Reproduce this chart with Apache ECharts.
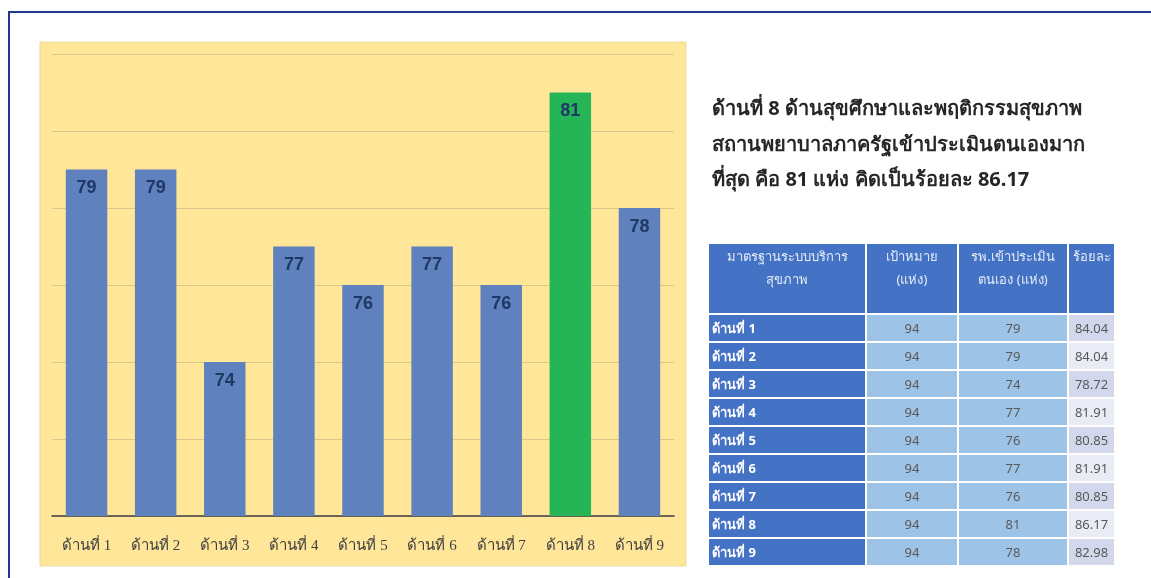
<!DOCTYPE html>
<html><head><meta charset="utf-8">
<script src="https://cdn.jsdelivr.net/npm/echarts@6.0.0/dist/echarts.min.js"></script>
<style>
html,body{margin:0;padding:0;background:#fff;width:1151px;height:578px;overflow:hidden;}
#frame{position:absolute;left:8px;top:11px;width:1143px;height:567px;border-top:2px solid #1F3A8A;border-left:2px solid #1F3A8A;box-sizing:border-box;}
#chart{position:absolute;left:0;top:0;width:1151px;height:578px;}
#tbl{position:absolute;left:707px;top:242px;border-collapse:collapse;table-layout:fixed;font-family:Tahoma,'Noto Sans','DejaVu Sans',sans-serif;font-size:13px;}
#tbl td,#tbl th{border:2px solid #fff;padding:0;}
#tbl th{background:#4472C4;color:#E4EBF7;font-weight:normal;vertical-align:top;height:68px;line-height:23px;padding-top:1px;text-align:center;}
#tbl td{height:26px;line-height:26px;color:#595959;text-align:center;}
#tbl td.c1{background:#4472C4;color:#fff;text-align:left;padding-left:3px;font-weight:bold;}
#tbl td.c2,#tbl td.c3{background:#9DC3E6;}
#tbl td.c4a{background:#D3D7EB;}
#tbl td.c4b{background:#E9EBF5;}
</style></head>
<body>
<div id="frame"></div>
<div id="chart"></div>
<table id="tbl"></table>
<script>
// ---- data ----
const categories = ['ด้านที่ 1','ด้านที่ 2','ด้านที่ 3','ด้านที่ 4','ด้านที่ 5','ด้านที่ 6','ด้านที่ 7','ด้านที่ 8','ด้านที่ 9'];
const assessed = [79, 79, 74, 77, 76, 77, 76, 81, 78];
const targets = [94, 94, 94, 94, 94, 94, 94, 94, 94];
const percents = ['84.04','84.04','78.72','81.91','80.85','81.91','80.85','86.17','82.98'];
const highlightIndex = 7;
const yMin = 70, yMax = 82, yInterval = 2;
const headers = ['มาตรฐานระบบบริการ<br>สุขภาพ','เป้าหมาย<br>(แห่ง)','รพ.เข้าประเมิน<br>ตนเอง (แห่ง)','ร้อยละ'];
const titleLines = ['ด้านที่ 8 ด้านสุขศึกษาและพฤติกรรมสุขภาพ','สถานพยาบาลภาครัฐเข้าประเมินตนเองมาก','ที่สุด คือ 81 แห่ง คิดเป็นร้อยละ 86.17'];

// ---- table ----
const colW = [158, 92, 110, 47];
let html = '<colgroup>' + colW.map(w => '<col style="width:' + w + 'px">').join('') + '</colgroup>';
html += '<tr>' + headers.map(h => '<th>' + h + '</th>').join('') + '</tr>';
categories.forEach((c, i) => {
  html += '<tr><td class="c1">' + c + '</td><td class="c2">' + targets[i] + '</td><td class="c3">' + assessed[i] +
    '</td><td class="' + (i % 2 === 0 ? 'c4a' : 'c4b') + '">' + percents[i] + '</td></tr>';
});
document.getElementById('tbl').innerHTML = html;

// ---- chart ----
const chart = echarts.init(document.getElementById('chart'), null, {renderer: 'canvas'});
const thaiFont = "Tahoma, 'Noto Sans', 'DejaVu Sans', sans-serif";
chart.setOption({
  animation: false,
  backgroundColor: 'transparent',
  title: {
    text: titleLines.join('\n'),
    left: 712, top: 92, padding: 0,
    textStyle: {fontSize: 20, fontWeight: 'bold', color: '#262626', lineHeight: 35.5, fontFamily: thaiFont}
  },
  graphic: [{
    type: 'rect', z: -10, silent: true,
    shape: {x: 40, y: 42, width: 646, height: 524},
    style: {fill: '#FFE699', stroke: '#E8DAA6', lineWidth: 1}
  }],
  grid: {left: 52, right: 477, top: 54, bottom: 62},
  xAxis: {
    type: 'category', data: categories,
    axisLine: {lineStyle: {color: '#3F3F3F', width: 1.5}},
    axisTick: {show: false},
    axisLabel: {color: '#404040', fontSize: 15, margin: 23, fontFamily: "'Liberation Serif', 'DejaVu Serif', serif"}
  },
  yAxis: {
    type: 'value', min: yMin, max: yMax, interval: yInterval,
    axisLine: {show: false}, axisTick: {show: false}, axisLabel: {show: false},
    splitLine: {lineStyle: {color: '#DCC78A', width: 1}}
  },
  series: [{
    type: 'bar',
    barCategoryGap: '40%',
    data: assessed.map((v, i) => ({value: v, itemStyle: {color: i === highlightIndex ? '#25B456' : '#5F82BE'}})),
    label: {
      show: true, position: 'insideTop', distance: 10,
      color: '#1F3864', fontWeight: 'bold', fontSize: 18,
      fontFamily: "'Liberation Sans Narrow', 'Liberation Sans', sans-serif"
    }
  }]
});
</script>
</body></html>
